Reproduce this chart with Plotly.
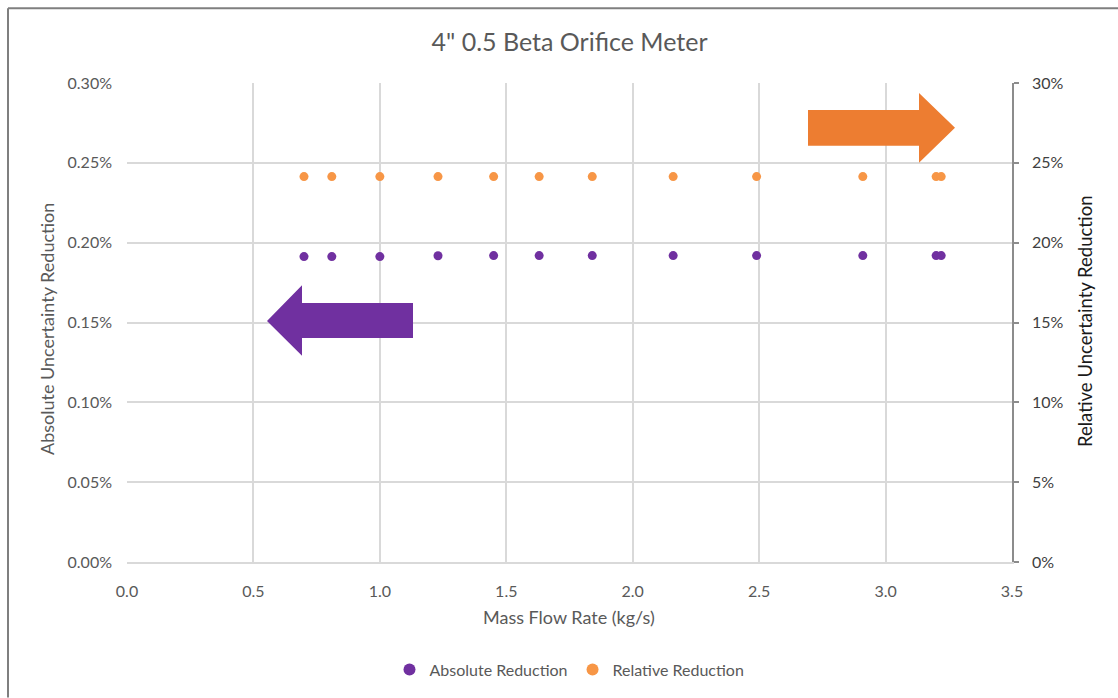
import plotly.graph_objects as go

# Mass flow rates (kg/s) and the uncertainty reductions at each rate
mass_flow = [0.70, 0.81, 1.00, 1.23, 1.45, 1.63, 1.84, 2.16, 2.49, 2.91, 3.20, 3.22]
absolute_reduction = [0.001913, 0.001913, 0.001913, 0.001918, 0.001919, 0.001919,
                      0.001919, 0.001919, 0.001919, 0.001919, 0.001919, 0.001919]
relative_reduction = [0.2414, 0.2414, 0.2414, 0.2414, 0.2414, 0.2414,
                      0.2414, 0.2414, 0.2414, 0.2414, 0.2414, 0.2414]

W, H = 1118, 698
L, R, T, B = 127, 1012, 83, 564  # plot area in pixels

def px(x):
    return (x - L) / (R - L)

def py(y):
    return (B - y) / (B - T)

def path(points):
    return "M " + " L ".join(f"{px(x)},{py(y)}" for x, y in points) + " Z"

FONT = "Lato, Calibri, sans-serif"
GRID = "#d9d9d9"
PURPLE = "#7030A0"
ORANGE = "#F79646"

fig = go.Figure()
fig.add_trace(go.Scatter(
    x=mass_flow, y=absolute_reduction, mode="markers", name="Absolute Reduction",
    marker=dict(color=PURPLE, size=9), yaxis="y"))
fig.add_trace(go.Scatter(
    x=mass_flow, y=relative_reduction, mode="markers", name="Relative Reduction",
    marker=dict(color=ORANGE, size=9), yaxis="y2"))

right_arrow = [(808, 110), (919, 110), (919, 93), (955, 128), (919, 163), (919, 146), (808, 146)]
left_arrow = [(413, 304), (302, 304), (302, 286), (267, 322), (302, 357), (302, 339), (413, 339)]

shapes = [
    dict(type="path", xref="paper", yref="paper", path=path(right_arrow),
         fillcolor="#ED7D31", line=dict(width=0), layer="above"),
    dict(type="path", xref="paper", yref="paper", path=path(left_arrow),
         fillcolor=PURPLE, line=dict(width=0), layer="above"),
    # chart frame
    dict(type="line", xref="paper", yref="paper", x0=px(8), y0=py(700), x1=px(8), y1=py(8),
         line=dict(color="#7f7f7f", width=2)),
    dict(type="line", xref="paper", yref="paper", x0=px(8), y0=py(8), x1=px(1120), y1=py(8),
         line=dict(color="#7f7f7f", width=2)),
]

annotations = [
    dict(text="Mass Flow Rate (kg/s)", xref="paper", yref="paper", x=px(569), y=py(619),
         showarrow=False, font=dict(family=FONT, size=18, color="#595959"),
         xanchor="center", yanchor="middle"),
    dict(text="Absolute Uncertainty Reduction", xref="paper", yref="paper", x=px(47), y=py(330),
         showarrow=False, textangle=-90, font=dict(family=FONT, size=18, color="#595959"),
         xanchor="center", yanchor="middle"),
    dict(text="Relative Uncertainty Reduction", xref="paper", yref="paper", x=px(1085), y=py(322),
         showarrow=False, textangle=-90, font=dict(family=FONT, size=18.5, color="#1a1a1a"),
         xanchor="center", yanchor="middle"),
]

fig.update_layout(
    width=W, height=H,
    margin=dict(l=L, r=W - R, t=T, b=H - B),
    paper_bgcolor="white", plot_bgcolor="white",
    title=dict(text='4" 0.5 Beta Orifice Meter', x=0.5, xref="paper", xanchor="center",
               y=1 - 42 / H, yanchor="middle",
               font=dict(family=FONT, size=25, color="#595959")),
    xaxis=dict(range=[0, 3.5], dtick=0.5, tickformat=".1f", showgrid=True, gridcolor=GRID,
               gridwidth=1.5, zeroline=False, showline=True, linecolor=GRID, linewidth=1.5,
               ticks="", ticklabelstandoff=14,
               tickfont=dict(family=FONT, size=16, color="#595959")),
    yaxis=dict(range=[0, 0.003], dtick=0.0005, tickformat=".2%", showgrid=True, gridcolor=GRID,
               gridwidth=1.5, zeroline=False, showline=False, ticks="", ticklabelstandoff=14,
               tickfont=dict(family=FONT, size=16, color="#595959")),
    yaxis2=dict(range=[0, 0.30], dtick=0.05, tickformat=".0%", overlaying="y", side="right",
                showgrid=False, zeroline=False, showline=True, linecolor="#8c8c8c", linewidth=1.5,
                ticks="outside", ticklen=5, tickcolor="#8c8c8c", tickwidth=1.5,
                ticklabelstandoff=10,
                tickfont=dict(family=FONT, size=16, color="#404040")),
    legend=dict(orientation="h", x=0.5, xanchor="center", xref="paper",
                y=py(672), yanchor="middle", font=dict(family=FONT, size=16, color="#595959"),
                itemsizing="constant", tracegroupgap=0, itemwidth=30),
    shapes=shapes,
    annotations=annotations,
    showlegend=True,
)

fig.write_html("out.html")
